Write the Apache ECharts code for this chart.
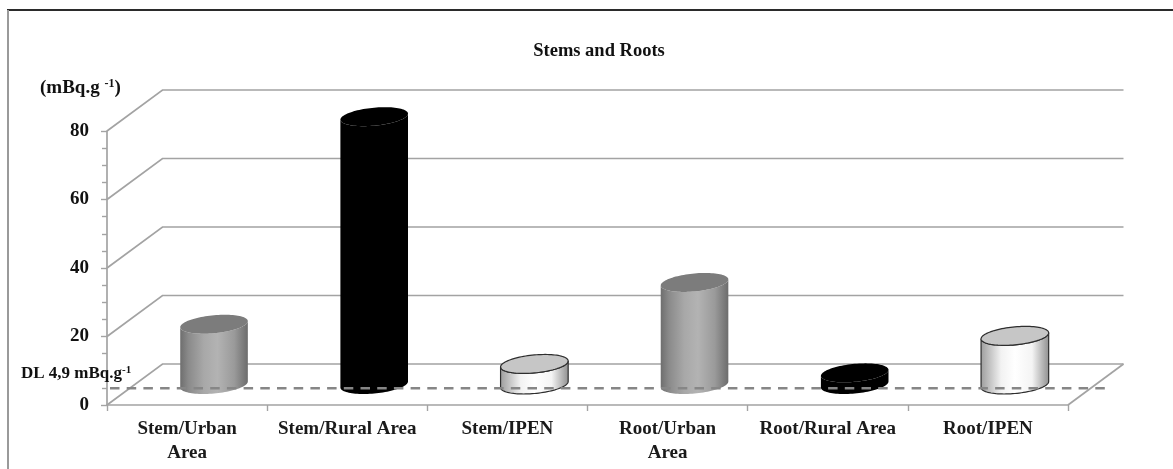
<!DOCTYPE html>
<html>
<head>
<meta charset="utf-8">
<style>
html,body{margin:0;padding:0;background:#fff;}
#chart{width:1173px;height:469px;}
</style>
<script src="https://cdn.jsdelivr.net/npm/echarts@6/dist/echarts.min.js"></script>
</head>
<body>
<div id="chart"></div>
<script>
// Activity per sample type, in mBq/g
const categories = ['Stem/Urban\nArea', 'Stem/Rural Area', 'Stem/IPEN', 'Root/Urban\nArea', 'Root/Rural Area', 'Root/IPEN'];
const activity = [17.6, 78.2, 6.0, 29.8, 3.4, 14.2];
const wallTicks = [0, 20, 40, 60, 80];
const detectionLimit = [4.9];

const SERIF = '"Liberation Serif","Times New Roman",serif';
const LINE = '#a3a3a3';
const DEPTH_X = 55.5, DEPTH_Y = -41;        // oblique offset of the back wall
const RADIUS_X = 33.8, RADIUS_Y = 9, TILT = 3; // cap ellipse of a cylinder

function gradient(stops) {
  return { type: 'linear', x: 0, y: 0, x2: 1, y2: 0,
    colorStops: stops.map(s => ({ offset: s[0], color: s[1] })) };
}
const materials = [
  { side: gradient([[0, '#6e6e6e'], [0.12, '#8a8a8a'], [0.35, '#a8a8a8'], [0.55, '#b3b3b3'], [0.8, '#9a9a9a'], [1, '#6c6c6c']]), cap: '#7c7c7c', stroke: null },
  { side: '#000000', cap: '#000000', stroke: null },
  { side: gradient([[0, '#9c9c9c'], [0.3, '#f2f2f2'], [0.5, '#ffffff'], [0.75, '#f4f4f4'], [1, '#8e8e8e']]), cap: '#c6c6c6', stroke: '#2e2e2e' }
];

function capPoint(cx, cy, t) {
  return [cx + RADIUS_X * Math.cos(t), cy + RADIUS_Y * Math.sin(t) - TILT * Math.cos(t)];
}

function renderWalls(params, api) {
  const g = params.coordSys;
  const y = api.coord([0, api.value(0)])[1];
  const x0 = g.x, x1 = g.x + g.width;
  const common = { stroke: LINE, lineWidth: 1.7, fill: null };
  const children = [{
    type: 'polyline',
    shape: { points: [[x0, y], [x0 + DEPTH_X, y + DEPTH_Y], [x1 + DEPTH_X, y + DEPTH_Y]] },
    style: common
  }];
  if (api.value(0) === 0) {
    children.push({
      type: 'line',
      shape: { x1: x1, y1: y, x2: x1 + DEPTH_X, y2: y + DEPTH_Y },
      style: common
    });
  }
  return { type: 'group', children };
}

function renderCylinder(params, api) {
  const i = api.value(0);
  const top = api.coord([i, api.value(1)]);
  const base = api.coord([i, 0]);
  const cx = top[0] + DEPTH_X / 2 - 0.8;
  const cyTop = top[1] + DEPTH_Y / 2;
  const cyBase = base[1] + DEPTH_Y / 2;
  const m = materials[i % materials.length];
  const STEPS = 48;
  const body = [];
  for (let s = 0; s <= STEPS; s++) {
    body.push(capPoint(cx, cyBase, Math.PI - Math.PI * s / STEPS));
  }
  for (let s = 0; s <= STEPS; s++) {
    body.push(capPoint(cx, cyTop, Math.PI * s / STEPS));
  }
  const cap = [];
  for (let s = 0; s < STEPS * 2; s++) {
    cap.push(capPoint(cx, cyTop, Math.PI * s / STEPS));
  }
  return {
    type: 'group',
    children: [
      { type: 'polygon', shape: { points: body },
        style: { fill: m.side, stroke: m.stroke, lineWidth: 1.2 } },
      { type: 'polygon', shape: { points: cap },
        style: { fill: m.cap, stroke: m.stroke, lineWidth: 1.2 } }
    ]
  };
}

function renderLimit(params, api) {
  const g = params.coordSys;
  const y = api.coord([0, api.value(0)])[1];
  return {
    type: 'line',
    shape: { x1: g.x + 3, y1: y, x2: g.x + g.width + 43, y2: y },
    style: { stroke: '#868686', lineWidth: 2.4, lineDash: [9.5, 7.2] }
  };
}

const chart = echarts.init(document.getElementById('chart'), null, { renderer: 'canvas' });
chart.setOption({
  backgroundColor: '#ffffff',
  animation: false,
  title: {
    text: 'Stems and Roots',
    left: 594, top: 37, textAlign: 'center',
    textStyle: { fontFamily: SERIF, fontWeight: 'bold', fontSize: 18.5, color: '#111' }
  },
  grid: { left: 107, top: 131, width: 961, height: 274 },
  xAxis: {
    type: 'category',
    data: categories,
    axisLine: { lineStyle: { color: LINE, width: 1.7 } },
    axisTick: { show: true, length: 6, lineStyle: { color: LINE, width: 1.4 } },
    axisLabel: {
      interval: 0, margin: 12, lineHeight: 24,
      fontFamily: SERIF, fontWeight: 'bold', fontSize: 19, color: '#1a1a1a'
    }
  },
  yAxis: {
    type: 'value',
    min: 0, max: 80, interval: 20,
    splitLine: { show: false },
    axisLine: { show: true, lineStyle: { color: LINE, width: 1.7 } },
    axisTick: { show: true, length: 6, lineStyle: { color: LINE, width: 1.4 } },
    minorTick: { show: true, splitNumber: 4, length: 5, lineStyle: { color: LINE, width: 1.4 } },
    axisLabel: {
      margin: 18,
      fontFamily: SERIF, fontWeight: 'bold', fontSize: 19, color: '#111'
    }
  },
  graphic: [
    { type: 'line', silent: true, shape: { x1: 7, y1: 10, x2: 1173, y2: 10 },
      style: { stroke: '#2b2b2b', lineWidth: 2 } },
    { type: 'line', silent: true, shape: { x1: 8, y1: 10, x2: 8, y2: 469 },
      style: { stroke: '#9a9a9a', lineWidth: 2 } },
    { type: 'text', silent: true, left: 40, top: 78, z: 10,
      style: {
        text: '{b|(mBq.g }{s|-1}{b|)}',
        rich: {
          b: { fontFamily: SERIF, fontWeight: 'bold', fontSize: 19, fill: '#111', lineHeight: 20 },
          s: { fontFamily: SERIF, fontWeight: 'bold', fontSize: 12, fill: '#111', lineHeight: 20, verticalAlign: 'top' }
        }
      } },
    { type: 'text', silent: true, left: 21, top: 365, z: 10,
      style: {
        text: '{b|DL 4,9 mBq.g}{s|-1}',
        rich: {
          b: { fontFamily: SERIF, fontWeight: 'bold', fontSize: 17, fill: '#111', lineHeight: 18 },
          s: { fontFamily: SERIF, fontWeight: 'bold', fontSize: 11, fill: '#111', lineHeight: 18, verticalAlign: 'top' }
        }
      } }
  ],
  series: [
    {
      type: 'custom', name: 'walls', z: 1, silent: true,
      renderItem: renderWalls,
      data: wallTicks.map(v => [v]),
      encode: { y: 0 }
    },
    {
      type: 'custom', name: 'activity', z: 2, silent: true,
      renderItem: renderCylinder,
      data: activity.map((v, i) => [i, v]),
      encode: { x: 0, y: 1 }
    },
    {
      type: 'custom', name: 'detection limit', z: 3, silent: true,
      renderItem: renderLimit,
      data: detectionLimit.map(v => [v]),
      encode: { y: 0 }
    }
  ]
});
</script>
</body>
</html>
